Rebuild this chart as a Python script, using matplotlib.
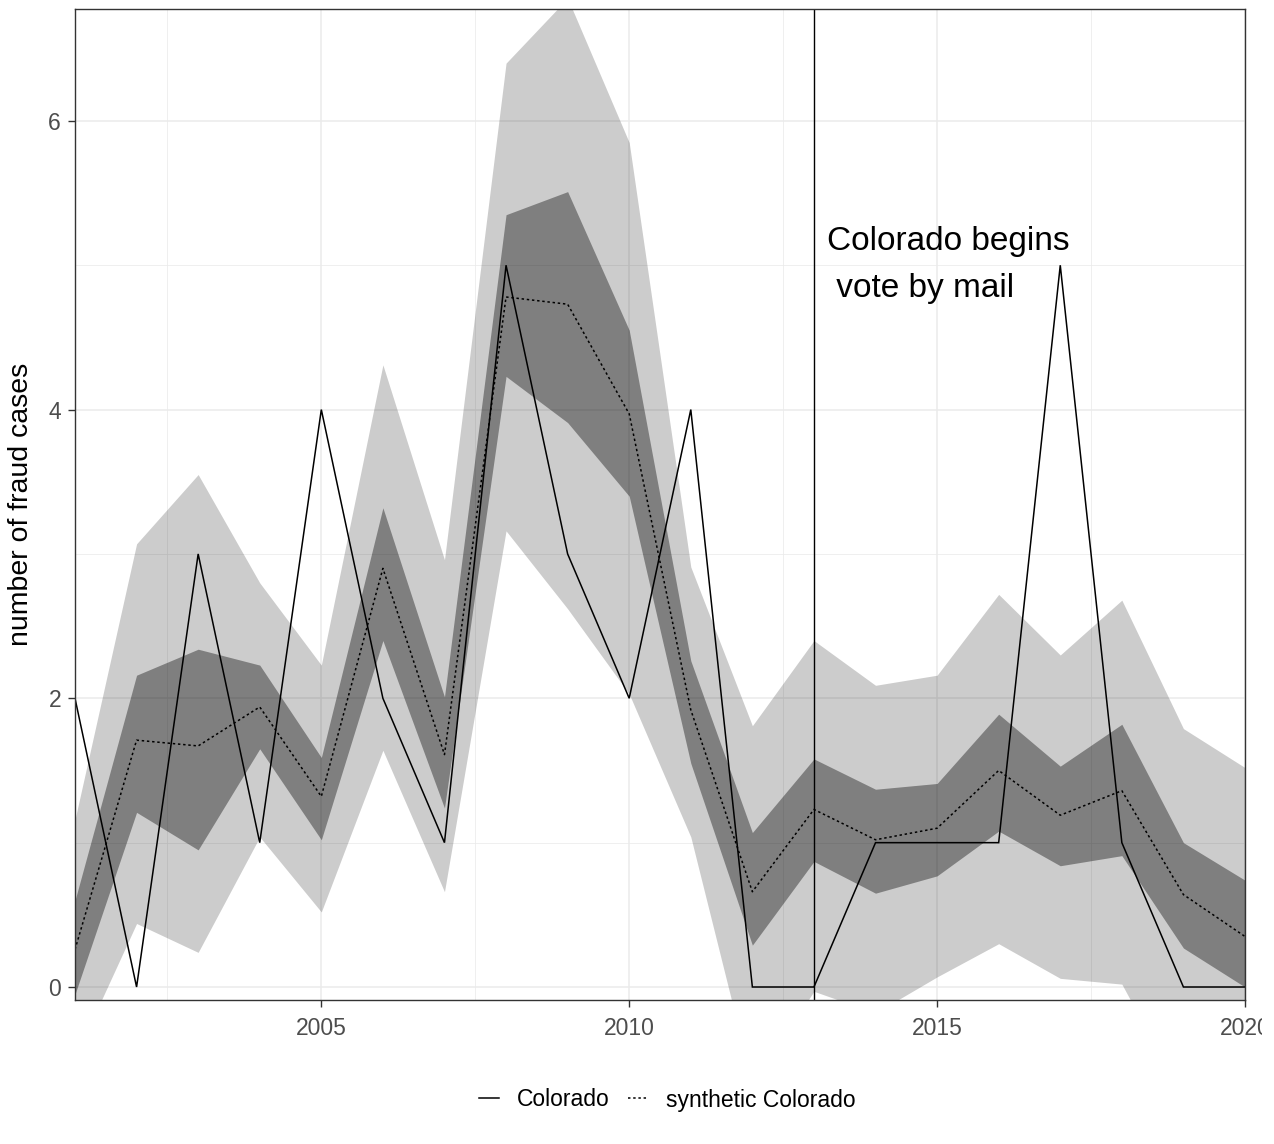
import matplotlib
matplotlib.use("Agg")
import matplotlib.pyplot as plt
from matplotlib.lines import Line2D
from matplotlib.ticker import MultipleLocator
from matplotlib.transforms import Bbox

plt.rcParams['font.family'] = ['Liberation Sans', 'DejaVu Sans']

# data
years = [2001, 2002, 2003, 2004, 2005, 2006, 2007, 2008, 2009, 2010,
         2011, 2012, 2013, 2014, 2015, 2016, 2017, 2018, 2019, 2020]
colorado = [2, 0, 3, 1, 4, 2, 1, 5, 3, 2, 4, 0, 0, 1, 1, 1, 5, 1, 0, 0]
synthetic = [0.26, 1.71, 1.67, 1.94, 1.32, 2.90, 1.61, 4.78, 4.73, 3.97,
             1.92, 0.66, 1.23, 1.02, 1.10, 1.50, 1.19, 1.36, 0.64, 0.35]
inner_lo = [-0.05, 1.21, 0.95, 1.65, 1.02, 2.40, 1.24, 4.23, 3.91, 3.40,
            1.55, 0.29, 0.87, 0.65, 0.77, 1.08, 0.84, 0.91, 0.27, 0.00]
inner_hi = [0.60, 2.16, 2.34, 2.23, 1.59, 3.32, 2.01, 5.35, 5.51, 4.55,
            2.26, 1.07, 1.58, 1.37, 1.41, 1.89, 1.53, 1.82, 1.00, 0.74]
outer_lo = [-0.49, 0.44, 0.24, 1.04, 0.52, 1.64, 0.66, 3.16, 2.62, 2.03,
            1.04, -0.67, -0.03, -0.18, 0.07, 0.30, 0.06, 0.02, -0.77, -1.00]
outer_hi = [1.16, 3.07, 3.55, 2.80, 2.23, 4.31, 2.96, 6.40, 6.85, 5.85,
            2.91, 1.81, 2.40, 2.09, 2.16, 2.72, 2.30, 2.68, 1.79, 1.52]
treat_year = 2013
note = "Colorado begins\n vote by mail"

W, H = 1274, 1144
fig = plt.figure(figsize=(W / 100, H / 100), dpi=100)
ax = fig.add_axes([75 / W, (H - 1000) / H, 1170 / W, 991 / H])

ax.fill_between(years, outer_lo, outer_hi, color='black', alpha=0.2, linewidth=0)
ax.fill_between(years, inner_lo, inner_hi, color='black', alpha=0.375, linewidth=0)
ax.plot(years, colorado, color='black', lw=1.1, solid_joinstyle='miter')
ax.plot(years, synthetic, color='black', lw=1.1, linestyle=(0, (1.6, 1.8)))
ax.axvline(treat_year, color='black', lw=1.0)

ax.text(2013.22, 5.0, note, ha='left', va='center', fontsize=24,
        linespacing=1.65, color='black')

ax.set_xlim(2001, 2020)
ax.set_ylim(-0.09, 6.775)
ax.xaxis.set_major_locator(MultipleLocator(5))
ax.xaxis.set_minor_locator(MultipleLocator(2.5))
ax.yaxis.set_major_locator(MultipleLocator(2))
ax.yaxis.set_minor_locator(MultipleLocator(1))
ax.set_axisbelow(True)
ax.grid(which='major', color='#EBEBEB', lw=1.1)
ax.grid(which='minor', color='#EBEBEB', lw=0.55)
ax.tick_params(which='minor', length=0)
ax.tick_params(which='major', length=5, width=1.0, color='#333333',
               labelsize=16.5, labelcolor='#4D4D4D', pad=5)
ax.tick_params(axis='x', pad=7)
for s in ax.spines.values():
    s.set_color('#333333')
    s.set_linewidth(1.0)
ax.set_ylabel("number of fraud cases", fontsize=20.5, labelpad=10)

handles = [Line2D([], [], color='black', lw=1.1),
           Line2D([], [], color='black', lw=1.1, linestyle=(0, (1.6, 1.8)))]
fig.legend(handles, ["Colorado", "synthetic Colorado"], loc='center',
           bbox_to_anchor=(667 / W, 1 - 1100 / H), ncol=2, frameon=False,
           fontsize=16.5, handlelength=0.9, handletextpad=0.75,
           columnspacing=0.8)

# the reference image is cut just past the last tick label
fig.canvas.draw()
for lab in ax.get_xticklabels():
    lab.set_clip_box(Bbox([[0, 0], [1262, H]]))
    lab.set_clip_on(True)

fig.savefig("out.png", dpi=100)
